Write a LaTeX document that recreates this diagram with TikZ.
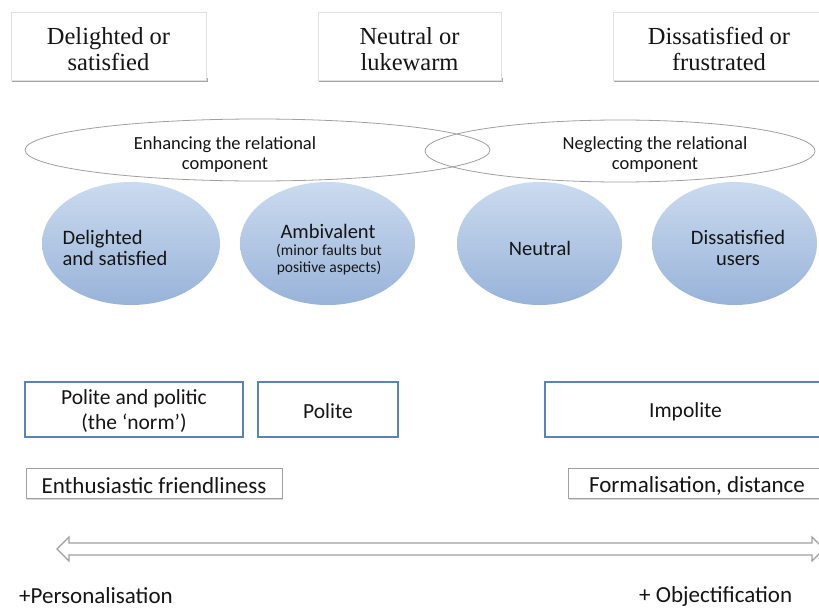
\documentclass[tikz,border=0pt]{standalone}
\usepackage{fontspec}
\setmainfont{Carlito}
\newfontfamily\timesf{Liberation Serif}
\usetikzlibrary{shapes.geometric,shadows,calc}
\definecolor{blueedge}{HTML}{5B82BA}
\definecolor{ovaltop}{HTML}{CBDBEF}
\definecolor{ovalbot}{HTML}{98B3D9}
\definecolor{grayedge}{HTML}{A0A0A0}
\definecolor{txt}{HTML}{151515}
\begin{document}
\begin{tikzpicture}[x=1pt,y=-1pt,every node/.style={text=txt},
  topbox/.style={draw=black!12,fill=white,minimum width=#1,minimum height=68pt,inner sep=0pt},
  toptext/.style={font=\timesf\fontsize{24.5}{26}\selectfont,align=center,inner sep=0pt},
  outline/.style={draw=grayedge,line width=0.8pt,ellipse,inner sep=0pt},
  oval/.style={ellipse,inner sep=0pt,top color=ovaltop,bottom color=ovalbot,draw=none},
  ovaltext/.style={font=\fontsize{20.5}{21}\selectfont,align=center,inner sep=0pt},
  bluebox/.style={draw=blueedge,line width=1.6pt,fill=white,minimum height=55pt,inner sep=0pt},
  boxtext/.style={font=\fontsize{21.5}{25}\selectfont,align=center,inner sep=0pt},
  graybox/.style={draw=grayedge,line width=1pt,fill=white,minimum height=30pt,inner sep=0pt,
     drop shadow={shadow xshift=0.5pt,shadow yshift=-1.5pt,opacity=0.3,fill=black!50}},
  graytext/.style={font=\fontsize{23}{26}\selectfont,inner sep=0pt},
  lbl/.style={font=\fontsize{23}{26}\selectfont,inner sep=0pt,anchor=west}
]
\useasboundingbox (0,0) rectangle (819,608);
\clip (0,0) rectangle (819,608);
\fill[white] (0,0) rectangle (819,608);

% top boxes (shadow strips then boxes)
\fill[black!35] (12,78) rectangle (207.5,82);
\fill[black!35] (319,78) rectangle (502.5,82);
\fill[black!35] (614,78) rectangle (830,82);
\node[topbox=195pt] (t1) at (108.5,46) {};
\node[topbox=183pt] (t2) at (409.5,46) {};
\node[topbox=212pt] (t3) at (719,46) {};
\node[toptext] (t1t) at (108.5,49) {Delighted or\\satisfied};
\node[toptext] (t2t) at (409.5,49) {Neutral or\\lukewarm};
\node[toptext] (t3t) at (719,49) {Dissatisfied or\\frustrated};

% outline ellipses
\node[outline,minimum width=465pt,minimum height=62pt] (eL) at (257.5,150) {};
\node[outline,minimum width=390pt,minimum height=62pt] (eR) at (620,151) {};
\node[font=\fontsize{18.5}{20}\selectfont,align=center,inner sep=0pt] (tL) at (225,155) {Enhancing the relational\\component};
\node[font=\fontsize{18.5}{20}\selectfont,align=center,inner sep=0pt] (tR) at (655,155) {Neglecting the relational\\component};

% blue ovals
\node[oval,minimum width=178pt,minimum height=123pt] (o1) at (131,243.5) {};
\node[oval,minimum width=175pt,minimum height=123pt] (o2) at (327.5,243.5) {};
\node[oval,minimum width=165pt,minimum height=123pt] (o3) at (539.5,243.5) {};
\node[oval,minimum width=165pt,minimum height=123pt] (o4) at (734.5,243.5) {};
\node[ovaltext,align=left] (o1t) at (115,248) {Delighted\\and satisfied};
\node[ovaltext] (o2t) at (328,231.5) {Ambivalent};
\node[font=\fontsize{15.5}{17}\selectfont,align=center,inner sep=0pt] (o2s) at (329,260) {(minor faults but\\positive aspects)};
\node[ovaltext] (o3t) at (540,248) {Neutral};
\node[ovaltext] (o4t) at (738,248) {Dissatisfied\\users};

% blue boxes
\node[bluebox,minimum width=218pt] (b1) at (134,409.5) {};
\node[bluebox,minimum width=140pt] (b2) at (328,409.5) {};
\node[bluebox,minimum width=290pt] (b3) at (690,409.5) {};
\node[boxtext] (b1t) at (134,411.5) {Polite and politic\\(the ‘norm’)};
\node[boxtext] (b2t) at (328,411.5) {Polite};
\node[boxtext] (b3t) at (685.5,411.5) {Impolite};

% gray boxes
\node[graybox,minimum width=256pt] (g1) at (154,483) {};
\node[graybox,minimum width=260pt] (g2) at (698,483) {};
\node[graytext] (g1t) at (154,486) {Enthusiastic friendliness};
\node[graytext] (g2t) at (697,486) {Formalisation, distance};

% double arrow
\coordinate (aL) at (57,549);
\coordinate (aR) at (824,549);
\draw[draw=grayedge,line width=1.1pt,fill=white,line join=miter]
  (aL) -- ($(aL)+(12,-12)$) -- ($(aL)+(12,-6)$) -- ($(aR)+(-12,-6)$) -- ($(aR)+(-12,-12)$)
  -- (aR) -- ($(aR)+(-12,12)$) -- ($(aR)+(-12,6)$) -- ($(aL)+(12,6)$) -- ($(aL)+(12,12)$) -- cycle;

% bottom labels
\node[lbl] (p1) at (19,596) {+Personalisation};
\node[lbl] (p2) at (639,596) {+ Objectification};
\end{tikzpicture}
\end{document}
